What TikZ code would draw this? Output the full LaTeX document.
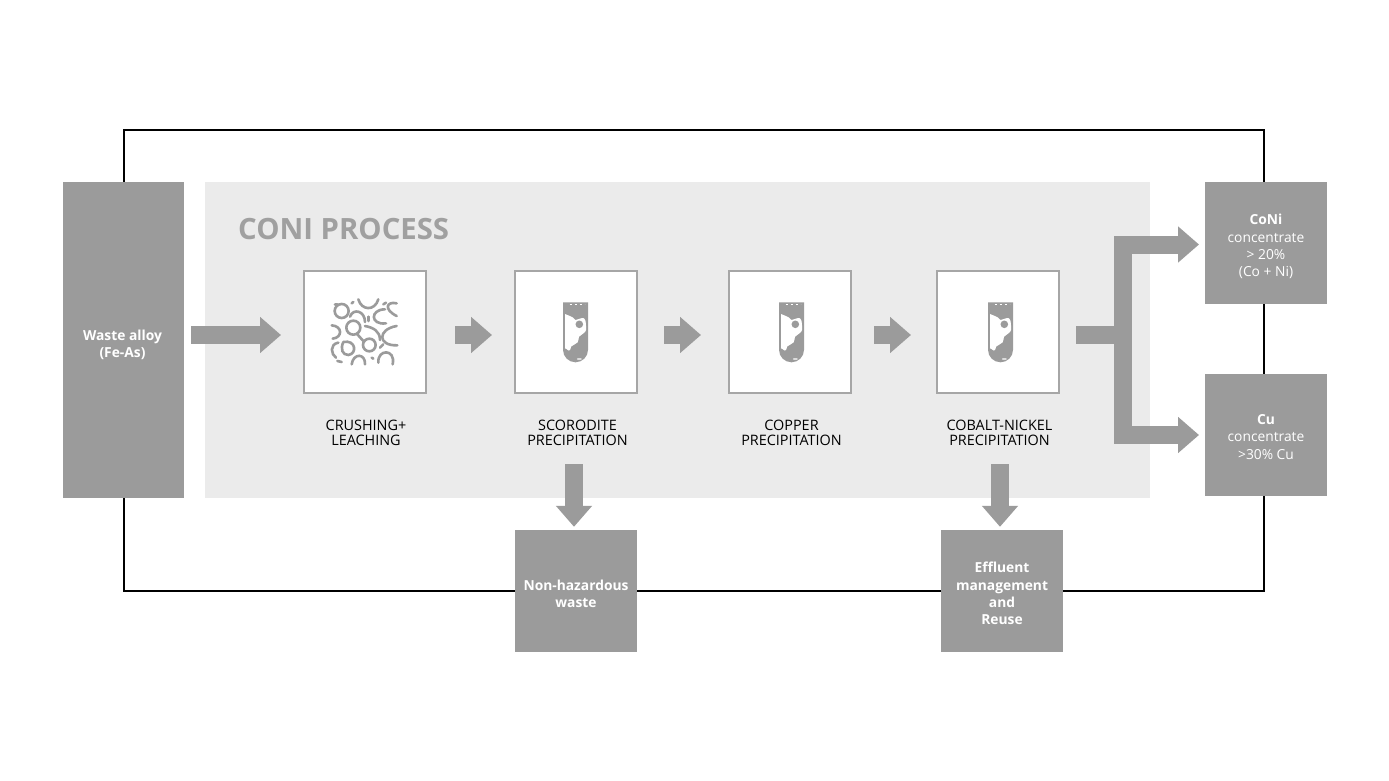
\documentclass[tikz,border=0pt]{standalone}
\usepackage{tikz}
\usepackage{fontspec}
\usetikzlibrary{arrows.meta}
\setmainfont{Open Sans}
\definecolor{boxgrey}{HTML}{9B9B9B}
\definecolor{panelgrey}{HTML}{EBEBEB}
\definecolor{edgegrey}{HTML}{A6A6A6}
\definecolor{titlegrey}{HTML}{A0A0A0}
\tikzset{
    darkbox/.style={rectangle, fill=boxgrey, minimum size=122pt, inner sep=0pt},
    boxtext/.style={align=center, text=white, inner sep=0pt, font=\fontsize{13.8}{17.2}\selectfont},
    stepbox/.style={rectangle, draw=edgegrey, line width=2pt, fill=white, minimum size=122pt, inner sep=0pt},
    steplabel/.style={align=center, text=black, font=\fontsize{14.4}{15.4}\selectfont},
    blockline/.style={draw=boxgrey, line width=18pt},
    blockarrow/.style={blockline, -{Triangle[width=35pt, length=21pt]}},
    crumb/.style={draw=boxgrey, line width=2.6pt, line cap=round},
    tube/.pic={
        \fill[boxgrey] (-12.5pt,29.7pt) -- (12.5pt,29.7pt) -- (12.5pt,-17.8pt) arc (0:-180:12.5pt) -- cycle;
        \fill[white] (-10.5pt,18pt) .. controls (-7pt,16pt) and (-3pt,16pt) .. (0pt,12pt) .. controls (3pt,12pt) and (6pt,15pt) .. (8.5pt,13.7pt) .. controls (11pt,12pt) and (10.5pt,5pt) .. (10.5pt,2pt) .. controls (10pt,-1pt) and (6pt,-2pt) .. (3.5pt,-4.7pt) .. controls (3pt,-7pt) and (3pt,-9pt) .. (2pt,-10.5pt) .. controls (0pt,-13pt) and (-3pt,-12.5pt) .. (-4.5pt,-14.7pt) .. controls (-5pt,-18pt) and (-6pt,-19pt) .. (-7pt,-18.5pt) .. controls (-8.5pt,-17.5pt) and (-9.5pt,-16.5pt) .. (-10.5pt,-16.3pt) -- cycle;
        \fill[boxgrey] (3.8pt,7.7pt) circle (3.8pt);
        \fill[white] (3.8pt,-27pt) ellipse (2.5pt and 0.7pt);
        \draw[white, line width=0.6pt, dash pattern=on 2pt off 3pt] (-6pt,27.8pt) -- (9pt,27.8pt);
    }
}

\begin{document}
\begin{tikzpicture}[x=1pt, y=-1pt]
        \useasboundingbox (0,0) rectangle (1389,781);

        % Define the outer loop and the panel
        \coordinate (loopnw) at (124,130);
        \coordinate (loopse) at (1264,591);
        \draw[line width=2pt, black] (loopnw) rectangle (loopse);
        \node[rectangle, fill=panelgrey, minimum width=945pt, minimum height=316pt, inner sep=0pt] (panel) at (677.5,340) {};
        \node[anchor=west, inner sep=0pt, text=titlegrey, font=\fontsize{29.3}{32}\selectfont\bfseries] (title) at (238,229) {CONI PROCESS};

        % Define the grey boxes
        \node[darkbox, minimum height=316pt, minimum width=121pt] (waste) at (123.5,340) {};
        \node[boxtext] (wastetext) at (122.5,345) {\textbf{Waste alloy}\\\textbf{(Fe-As)}};

        \node[darkbox] (coni) at (1266,242.5) {};
        \node[boxtext] (conitext) at (1266,246.5) {\textbf{CoNi}\\concentrate\\> 20\%\\(Co + Ni)};

        \node[darkbox] (cu) at (1266,435) {};
        \node[boxtext] (cutext) at (1266,437) {\textbf{Cu}\\concentrate\\>30\% Cu};

        \node[darkbox] (nonhaz) at (576,591) {};
        \node[boxtext] (nonhaztext) at (576,594) {\textbf{Non-hazardous}\\\textbf{waste}};

        \node[darkbox] (effluent) at (1002,591) {};
        \node[boxtext] (effluenttext) at (1002,593.5) {\textbf{Effluent}\\\textbf{management}\\\textbf{and}\\\textbf{Reuse}};

        % Define the process steps
        \node[stepbox] (crushing) at (365,331.5) {};
        \node[stepbox] (scorodite) at (576,331.5) {};
        \node[stepbox] (copper) at (790,331.5) {};
        \node[stepbox] (conickel) at (998,331.5) {};

        \node[steplabel] (crushinglabel) at (366,433) {CRUSHING+\\LEACHING};
        \node[steplabel] (scoroditelabel) at (577.5,433) {SCORODITE\\PRECIPITATION};
        \node[steplabel] (copperlabel) at (791.5,433) {COPPER\\PRECIPITATION};
        \node[steplabel] (conickellabel) at (999.5,433) {COBALT-NICKEL\\PRECIPITATION};

        % Define the icons
        \pic at (575.5,332) {tube};
        \pic at (791.5,332) {tube};
        \pic at (1000.5,332) {tube};
        \begin{scope}[shift={(300pt,-266pt)}, x=0.3333pt, y=-0.3333pt]
            \draw[crumb] (125,135) circle (21);
            \draw[crumb] (175,100) .. controls (185,135) and (225,135) .. (235,100);
            \draw[crumb] (290,112) .. controls (260,105) and (250,130) .. (290,150);
            \draw[crumb] (150,152) .. controls (160,125) and (195,135) .. (195,168);
            \draw[crumb] (255,130) .. controls (210,130) and (210,178) .. (258,172);
            \draw[crumb] (160,185) circle (21);
            \draw[crumb] (95,178) .. controls (128,180) and (128,215) .. (98,218);
            \draw[crumb] (195,180) .. controls (220,185) and (240,195) .. (240,222);
            \draw[crumb] (290,180) .. controls (232,190) and (232,240) .. (292,238);
            \draw[crumb] (208,237) circle (19);
            \draw[crumb] (172,205) -- (190,225);
            \draw[crumb] (130,228) .. controls (168,220) and (172,264) .. (145,267) .. controls (128,267) and (120,250) .. (130,228);
            \draw[crumb] (115,230) .. controls (88,235) and (93,265) .. (108,275);
            \draw[crumb] (155,295) .. controls (160,260) and (197,262) .. (195,295);
            \draw[crumb] (235,290) .. controls (232,248) and (288,248) .. (278,295);
            \draw[crumb] (105,115) -- (112,115);
            \draw[crumb] (155,112) -- (160,108);
            \draw[crumb] (250,115) -- (258,110);
            \draw[crumb] (205,152) -- (205,165);
            \draw[crumb] (112,285) -- (125,288);
            \draw[crumb] (215,275) -- (220,278);
            \draw[crumb] (250,235) -- (240,245);
        \end{scope}

        % Define the block arrows
        \coordinate (flow) at (0,335);
        \coordinate (fork) at (1123,335);
        \coordinate (coniin) at (1205,244.5);
        \coordinate (cuin) at (1205,435);
        \coordinate (wastedrop) at (574,464);
        \coordinate (effluentdrop) at (1000,464);
        \draw[blockarrow, shorten <=7pt, shorten >=22pt] (waste.east |- flow) -- (crushing.west |- flow);
        \draw[blockarrow, shorten <=28pt, shorten >=22pt] (crushing.east |- flow) -- (scorodite.west |- flow);
        \draw[blockarrow, shorten <=26pt, shorten >=27pt] (scorodite.east |- flow) -- (copper.west |- flow);
        \draw[blockarrow, shorten <=22pt, shorten >=25pt] (copper.east |- flow) -- (conickel.west |- flow);
        \draw[blockline, shorten <=16pt] (conickel.east |- flow) -- (fork);
        \draw[blockarrow, shorten >=6pt] (fork) |- (coniin);
        \draw[blockarrow, shorten >=6pt] (fork) |- (cuin);
        \draw[blockarrow, shorten >=3pt] (wastedrop) -- (wastedrop |- nonhaz.north);
        \draw[blockarrow, shorten >=3pt] (effluentdrop) -- (effluentdrop |- effluent.north);

    \end{tikzpicture}
\end{document}
